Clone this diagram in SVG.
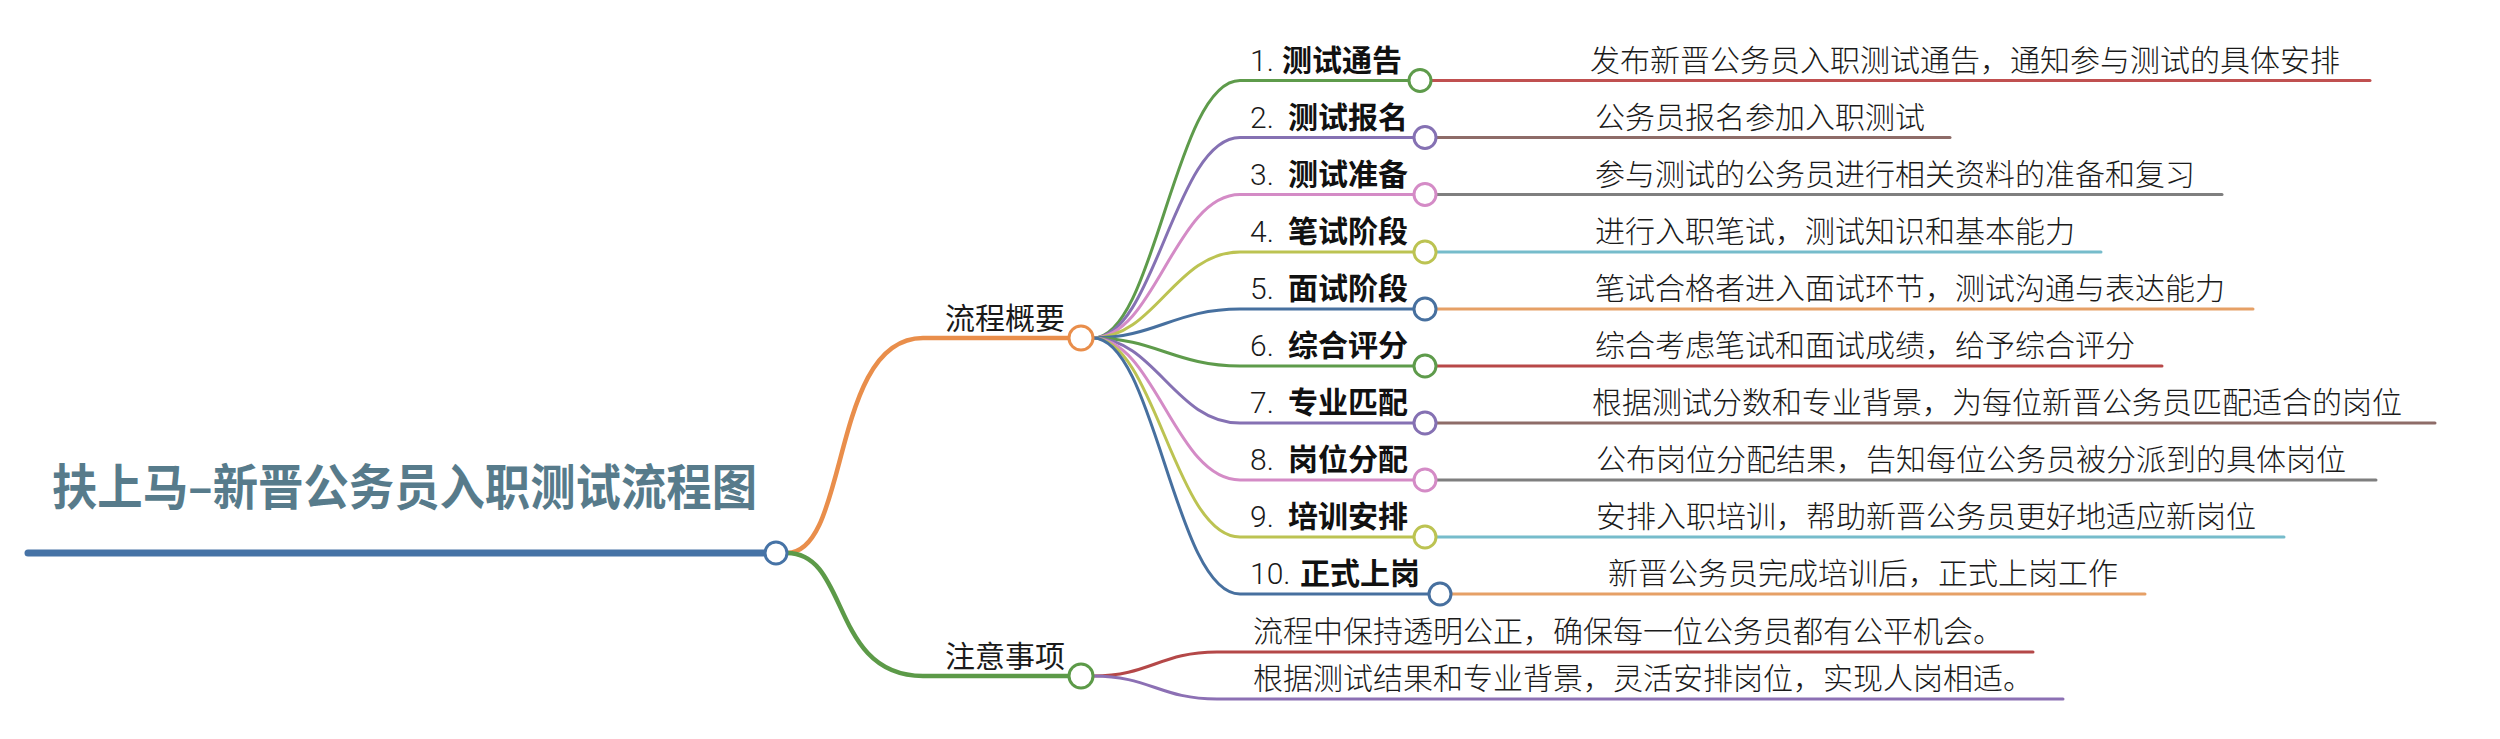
<svg xmlns="http://www.w3.org/2000/svg" width="2500" height="739" viewBox="0 0 2500 739">
<style>
.bg{fill:#ffffff}
.ln{fill:none;stroke-linecap:round}
.c3{stroke-width:3}
.node{fill:#ffffff;stroke-width:3}
.num{font-family:Roboto,"Liberation Sans","Noto Sans CJK SC",sans-serif;font-weight:300;font-size:30px;fill:#1a1a1a}
.bold{font-family:"Noto Sans CJK SC","Noto Sans",sans-serif;font-weight:700;font-size:30px;fill:#111111}
.txt{font-family:"Noto Sans CJK SC","Noto Sans",sans-serif;font-weight:300;font-size:30px;fill:#1a1a1a}
.title{font-family:"Noto Sans CJK SC","Noto Sans",sans-serif;font-weight:700;font-size:49px;fill:#577b8b}
.green{stroke:#5e9b4b}.purple{stroke:#8571b3}.pink{stroke:#d48bc6}.yg{stroke:#bcc352}.blue{stroke:#47709f}
.red{stroke:#c05050}.brown{stroke:#8e6c68}.gray{stroke:#7f7f7f}.cyan{stroke:#76bccb}.orange{stroke:#e6a066}.red2{stroke:#b84848}
</style>
<rect class="bg" x="0" y="0" width="2500" height="739"/>

<g id="connectors">
  <line class="ln" x1="28" y1="553" x2="765" y2="553" stroke="#4673a6" stroke-width="7" stroke-linecap="butt"/>
  <path class="ln" d="M787 553 C850 553 830 338 923 338 L1069 338" stroke="#e98e4b" stroke-width="4.5"/>
  <path class="ln" d="M787 553 C850 553 830 676 923 676 L1069 676" stroke="#5c9a48" stroke-width="4.5"/>

  <path class="ln c3 green" d="M1093 338 C1155 338 1175 80.5 1240 80.5 L1409 80.5"/>
  <path class="ln c3 purple" d="M1093 338 C1155 338 1175 137.5 1240 137.5 L1414 137.5"/>
  <path class="ln c3 pink" d="M1093 338 C1155 338 1175 194.5 1240 194.5 L1414 194.5"/>
  <path class="ln c3 yg" d="M1093 338 C1155 338 1175 252 1240 252 L1414 252"/>
  <path class="ln c3 blue" d="M1093 338 C1155 338 1175 309 1240 309 L1414 309"/>
  <path class="ln c3 green" d="M1093 338 C1155 338 1175 366 1240 366 L1414 366"/>
  <path class="ln c3 purple" d="M1093 338 C1155 338 1175 423 1240 423 L1414 423"/>
  <path class="ln c3 pink" d="M1093 338 C1155 338 1175 480 1240 480 L1414 480"/>
  <path class="ln c3 yg" d="M1093 338 C1155 338 1175 537 1240 537 L1414 537"/>
  <path class="ln c3 blue" d="M1093 338 C1155 338 1175 594 1240 594 L1429 594"/>

  <line class="ln c3 red" x1="1431" y1="80.5" x2="2370" y2="80.5"/>
  <line class="ln c3 brown" x1="1436" y1="137.5" x2="1950" y2="137.5"/>
  <line class="ln c3 gray" x1="1436" y1="194.5" x2="2222" y2="194.5"/>
  <line class="ln c3 cyan" x1="1436" y1="252" x2="2101" y2="252"/>
  <line class="ln c3 orange" x1="1436" y1="309" x2="2253" y2="309"/>
  <line class="ln c3 red2" x1="1436" y1="366" x2="2162" y2="366"/>
  <line class="ln c3 brown" x1="1436" y1="423" x2="2435" y2="423"/>
  <line class="ln c3 gray" x1="1436" y1="480" x2="2376" y2="480"/>
  <line class="ln c3 cyan" x1="1436" y1="537" x2="2284" y2="537"/>
  <line class="ln c3 orange" x1="1451" y1="594" x2="2145" y2="594"/>

  <path class="ln c3" d="M1093 676 C1150 676 1160 652 1217 652 L2033 652" stroke="#b44848"/>
  <path class="ln c3" d="M1093 676 C1150 676 1160 699 1217 699 L2063 699" stroke="#8c70b4"/>
</g>

<g id="root">
  <text class="title" x="52" y="505" textLength="705" lengthAdjust="spacingAndGlyphs">扶上马–新晋公务员入职测试流程图</text>
  <circle class="node" cx="776" cy="553" r="11" stroke="#4673a6"/>
</g>

<g id="branch-overview">
  <text class="txt" x="945" y="329" style="font-weight:400">流程概要</text>
  <circle class="node" cx="1081" cy="338" r="12" stroke="#e98e4b" stroke-width="4"/>
</g>
<g id="branch-notes">
  <text class="txt" x="945" y="667" style="font-weight:400">注意事项</text>
  <circle class="node" cx="1081" cy="676" r="12" stroke="#5c9a48" stroke-width="4"/>
</g>

<g id="item1">
  <text class="num" x="1250" y="71">1.</text><text class="bold" x="1282" y="71">测试通告</text>
  <circle class="node green" cx="1420" cy="80.5" r="11"/>
  <text class="txt" x="1590" y="71">发布新晋公务员入职测试通告，通知参与测试的具体安排</text>
</g>
<g id="item2">
  <text class="num" x="1250" y="128">2.</text><text class="bold" x="1288" y="128">测试报名</text>
  <circle class="node purple" cx="1425" cy="137.5" r="11"/>
  <text class="txt" x="1595" y="128">公务员报名参加入职测试</text>
</g>
<g id="item3">
  <text class="num" x="1250" y="185">3.</text><text class="bold" x="1288" y="185">测试准备</text>
  <circle class="node pink" cx="1425" cy="194.5" r="11"/>
  <text class="txt" x="1595" y="185">参与测试的公务员进行相关资料的准备和复习</text>
</g>
<g id="item4">
  <text class="num" x="1250" y="242">4.</text><text class="bold" x="1288" y="242">笔试阶段</text>
  <circle class="node yg" cx="1425" cy="252" r="11"/>
  <text class="txt" x="1595" y="242">进行入职笔试，测试知识和基本能力</text>
</g>
<g id="item5">
  <text class="num" x="1250" y="299">5.</text><text class="bold" x="1288" y="299">面试阶段</text>
  <circle class="node blue" cx="1425" cy="309" r="11"/>
  <text class="txt" x="1595" y="299">笔试合格者进入面试环节，测试沟通与表达能力</text>
</g>
<g id="item6">
  <text class="num" x="1250" y="356">6.</text><text class="bold" x="1288" y="356">综合评分</text>
  <circle class="node green" cx="1425" cy="366" r="11"/>
  <text class="txt" x="1595" y="356">综合考虑笔试和面试成绩，给予综合评分</text>
</g>
<g id="item7">
  <text class="num" x="1250" y="413">7.</text><text class="bold" x="1288" y="413">专业匹配</text>
  <circle class="node purple" cx="1425" cy="423" r="11"/>
  <text class="txt" x="1592" y="413">根据测试分数和专业背景，为每位新晋公务员匹配适合的岗位</text>
</g>
<g id="item8">
  <text class="num" x="1250" y="470">8.</text><text class="bold" x="1288" y="470">岗位分配</text>
  <circle class="node pink" cx="1425" cy="480" r="11"/>
  <text class="txt" x="1596" y="470">公布岗位分配结果，告知每位公务员被分派到的具体岗位</text>
</g>
<g id="item9">
  <text class="num" x="1250" y="527">9.</text><text class="bold" x="1288" y="527">培训安排</text>
  <circle class="node yg" cx="1425" cy="537" r="11"/>
  <text class="txt" x="1596" y="527">安排入职培训，帮助新晋公务员更好地适应新岗位</text>
</g>
<g id="item10">
  <text class="num" x="1250" y="584">10.</text><text class="bold" x="1300" y="584">正式上岗</text>
  <circle class="node blue" cx="1440" cy="594" r="11"/>
  <text class="txt" x="1608" y="584">新晋公务员完成培训后，正式上岗工作</text>
</g>

<g id="note1">
  <text class="txt" x="1253" y="642">流程中保持透明公正，确保每一位公务员都有公平机会。</text>
</g>
<g id="note2">
  <text class="txt" x="1253" y="689">根据测试结果和专业背景，灵活安排岗位，实现人岗相适。</text>
</g>
</svg>
